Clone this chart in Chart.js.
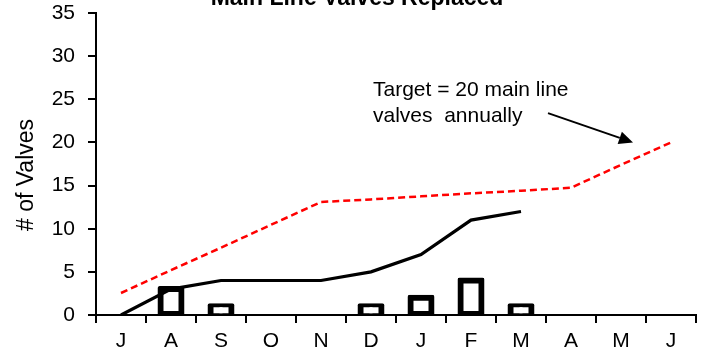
<!DOCTYPE html>
<html>
<head>
<meta charset="utf-8">
<script src="https://cdn.jsdelivr.net/npm/chart.js@4"></script>
<style>
  html, body { margin: 0; padding: 0; background: #fff; }
  #wrap { position: relative; width: 707px; height: 354px; }
</style>
</head>
<body>
<div id="wrap"><canvas id="c" width="707" height="354"></canvas></div>
<script>
// Months of the fiscal year, July through June
const months = ['J', 'A', 'S', 'O', 'N', 'D', 'J', 'F', 'M', 'A', 'M', 'J'];
// Valves replaced each month
const monthlyReplaced = [null, 3, 1, null, null, 1, 2, 4, 1, null, null, null];
// Running total of valves replaced
const cumulativeReplaced = [0, 3, 4, 4, 4, 5, 7, 11, 12, null, null, null];
// Cumulative target path toward 20 per year
const cumulativeTarget = [2.55, 5.2, 7.8, 10.45, 13.1, 13.4, 13.75, 14.1, 14.4, 14.75, 17.4, 20];
// Value axis ticks
const yTicks = [0, 5, 10, 15, 20, 25, 30, 35];

const FONT = '"Liberation Sans", Arial, sans-serif';

const decorations = {
  id: 'decorations',
  afterDatasetsDraw(chart) {
    const { ctx, scales: { x, y } } = chart;
    ctx.save();
    // target note and arrow
    ctx.fillStyle = '#000';
    ctx.font = '21px ' + FONT;
    ctx.textAlign = 'left';
    ctx.textBaseline = 'alphabetic';
    const tx = x.getPixelForValue(5.04);
    ctx.fillText('Target = 20 main line', tx, y.getPixelForValue(25.4));
    ctx.fillText('valves  annually', tx, y.getPixelForValue(22.4));

    const x0 = x.getPixelForValue(8.54), y0 = y.getPixelForValue(23.4);
    const x1 = x.getPixelForValue(10.24), y1 = y.getPixelForValue(20.0);
    const ang = Math.atan2(y1 - y0, x1 - x0);
    const headLen = 14, headHalf = 6.5;
    const bx = x1 - headLen * Math.cos(ang), by = y1 - headLen * Math.sin(ang);
    ctx.strokeStyle = '#000';
    ctx.lineWidth = 2;
    ctx.beginPath();
    ctx.moveTo(x0, y0);
    ctx.lineTo(bx, by);
    ctx.stroke();
    ctx.beginPath();
    ctx.moveTo(x1, y1);
    ctx.lineTo(bx + headHalf * Math.sin(ang), by - headHalf * Math.cos(ang));
    ctx.lineTo(bx - headHalf * Math.sin(ang), by + headHalf * Math.cos(ang));
    ctx.closePath();
    ctx.fill();
    ctx.restore();
  },
  afterDraw(chart) {
    const { ctx, chartArea } = chart;
    ctx.save();
    ctx.fillStyle = '#000';
    // chart title, sitting at the very top edge
    ctx.font = 'bold 23px ' + FONT;
    ctx.textAlign = 'center';
    ctx.textBaseline = 'alphabetic';
    ctx.fillText('Main Line Valves Replaced', 357, 5);
    // value axis title
    ctx.translate(33, (chartArea.top + chartArea.bottom) / 2 + 11);
    ctx.rotate(-Math.PI / 2);
    ctx.font = '23px ' + FONT;
    ctx.textAlign = 'center';
    ctx.textBaseline = 'alphabetic';
    ctx.fillText('# of Valves', 0, 0);
    ctx.restore();
  }
};

new Chart(document.getElementById('c'), {
  type: 'bar',
  data: {
    labels: months,
    datasets: [
      {
        type: 'line',
        label: 'Target',
        data: cumulativeTarget,
        borderColor: '#ff0000',
        borderWidth: 2.5,
        borderDash: [7, 4],
        pointRadius: 0,
        tension: 0,
        fill: false,
        order: 0
      },
      {
        type: 'line',
        label: 'Cumulative',
        data: cumulativeReplaced,
        borderColor: '#000',
        borderWidth: 3.2,
        pointRadius: 0,
        tension: 0,
        fill: false,
        spanGaps: false,
        order: 0
      },
      {
        type: 'bar',
        label: 'Monthly',
        data: monthlyReplaced,
        backgroundColor: '#fff',
        borderColor: '#000',
        borderWidth: 6,
        inflateAmount: 3,
        borderRadius: 2,
        borderSkipped: false,
        barThickness: 21,
        order: 1
      }
    ]
  },
  options: {
    responsive: false,
    animation: false,
    devicePixelRatio: 1,
    layout: { padding: { top: 13, left: 0, right: 11, bottom: 0 } },
    plugins: {
      legend: { display: false },
      title: { display: false },
      tooltip: { enabled: false }
    },
    scales: {
      x: {
        offset: true,
        grid: {
          display: true,
          offset: true,
          drawOnChartArea: false,
          drawTicks: true,
          tickLength: 8,
          tickColor: '#000',
          lineWidth: 2,
          color: '#000'
        },
        border: { display: true, color: '#000', width: 2 },
        ticks: {
          color: '#000',
          font: { family: FONT, size: 21 },
          padding: 6,
          maxRotation: 0,
          autoSkip: false
        },
        afterFit(scale) {
          scale.height = 39;
          scale.paddingLeft = 0;
          scale.paddingRight = 0;
        }
      },
      y: {
        min: 0,
        max: 35,
        afterBuildTicks(scale) {
          scale.ticks = yTicks.map(v => ({ value: v }));
        },
        grid: {
          display: true,
          drawOnChartArea: false,
          drawTicks: true,
          tickLength: 8,
          tickColor: '#000',
          lineWidth: 2,
          color: '#000'
        },
        border: { display: true, color: '#000', width: 2 },
        ticks: {
          color: '#000',
          font: { family: FONT, size: 21 },
          padding: 13
        },
        afterFit(scale) {
          scale.width = 96;
          scale.paddingTop = 0;
          scale.paddingBottom = 0;
        }
      }
    }
  },
  plugins: [decorations]
});
</script>
</body>
</html>
